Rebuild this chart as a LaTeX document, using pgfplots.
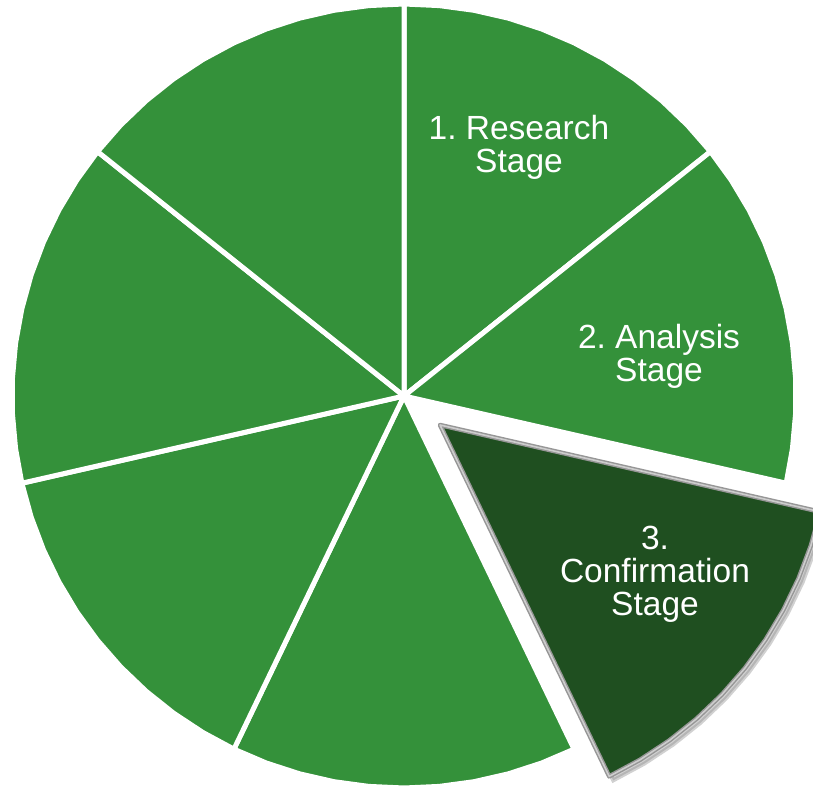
\documentclass[border=0pt]{standalone}
\usepackage{fontspec}
\setmainfont{Liberation Sans}
\usepackage{pgfplots}
\pgfplotsset{compat=1.18}
\frenchspacing
\definecolor{pgreen}{RGB}{52,145,58}
\definecolor{dgreen}{RGB}{31,79,32}
\definecolor{rimout}{RGB}{150,150,150}
\definecolor{rimin}{RGB}{205,205,205}
\begin{document}
\begin{tikzpicture}
\begin{axis}[x=1pt,y=1pt,xmin=-404,xmax=409,ymin=-389,ymax=396,hide axis,clip=true]
% normal slices (polar: angle, radius)
\addplot[data cs=polar,fill=pgreen,draw=white,line width=5pt,line join=round] coordinates {
(0,0) (90,392) (84.857,392) (79.714,392) (74.571,392) (69.429,392) (64.286,392) (59.143,392) (54,392) (48.857,392) (43.714,392) (38.571,392)} -- cycle;
\addplot[data cs=polar,fill=pgreen,draw=white,line width=5pt,line join=round] coordinates {
(0,0) (38.571,392) (33.429,392) (28.286,392) (23.143,392) (18,392) (12.857,392) (7.714,392) (2.571,392) (-2.571,392) (-7.714,392) (-12.857,392)} -- cycle;
\addplot[data cs=polar,fill=pgreen,draw=white,line width=5pt,line join=round] coordinates {
(0,0) (-64.286,392) (-69.429,392) (-74.571,392) (-79.714,392) (-84.857,392) (-90,392) (-95.143,392) (-100.286,392) (-105.429,392) (-110.571,392) (-115.714,392)} -- cycle;
\addplot[data cs=polar,fill=pgreen,draw=white,line width=5pt,line join=round] coordinates {
(0,0) (-115.714,392) (-120.857,392) (-126,392) (-131.143,392) (-136.286,392) (-141.429,392) (-146.571,392) (-151.714,392) (-156.857,392) (-162,392) (-167.143,392)} -- cycle;
\addplot[data cs=polar,fill=pgreen,draw=white,line width=5pt,line join=round] coordinates {
(0,0) (-167.143,392) (-172.286,392) (-177.429,392) (-182.571,392) (-187.714,392) (-192.857,392) (-198,392) (-203.143,392) (-208.286,392) (-213.429,392) (-218.571,392)} -- cycle;
\addplot[data cs=polar,fill=pgreen,draw=white,line width=5pt,line join=round] coordinates {
(0,0) (-218.571,392) (-223.714,392) (-228.857,392) (-234,392) (-239.143,392) (-244.286,392) (-249.429,392) (-254.571,392) (-259.714,392) (-264.857,392) (-270,392)} -- cycle;
% exploded slice: shadow
\addplot[fill=black!45,draw=black!45,line width=4pt,opacity=0.4,xshift=4pt,yshift=-4pt] coordinates {
(36,-29) (416.22,-115.78) (406.91,-149.52) (394.62,-182.28) (379.43,-213.81) (361.48,-243.85) (340.91,-272.16) (317.89,-298.51) (292.60,-322.70) (265.24,-344.52) (236.03,-363.79) (205.21,-380.38)} -- cycle;
% exploded slice
\addplot[fill=dgreen,draw=rimout,line width=4.5pt,line join=round] coordinates {
(36,-29) (416.22,-115.78) (406.91,-149.52) (394.62,-182.28) (379.43,-213.81) (361.48,-243.85) (340.91,-272.16) (317.89,-298.51) (292.60,-322.70) (265.24,-344.52) (236.03,-363.79) (205.21,-380.38)} -- cycle;
\addplot[draw=rimin,line width=1.6pt,line join=round] coordinates {
(36,-29) (416.22,-115.78) (406.91,-149.52) (394.62,-182.28) (379.43,-213.81) (361.48,-243.85) (340.91,-272.16) (317.89,-298.51) (292.60,-322.70) (265.24,-344.52) (236.03,-363.79) (205.21,-380.38)} -- cycle;
% labels (anchor=base is the baseline of the last line)
\node[anchor=base,text=white,inner sep=0pt,align=center,font=\fontsize{33.5}{33}\selectfont] at (axis cs:115,223) {1. Research\\Stage};
\node[anchor=base,text=white,inner sep=0pt,align=center,font=\fontsize{33.5}{33}\selectfont] at (axis cs:255,14) {2. Analysis\\Stage};
\node[anchor=base,text=white,inner sep=0pt,align=center,font=\fontsize{33.5}{33}\selectfont] at (axis cs:251,-219) {3.\\Confirmation\\Stage};
\end{axis}
\pgfresetboundingbox
\useasboundingbox (current axis.south west) rectangle (current axis.north east);
\end{tikzpicture}
\end{document}
